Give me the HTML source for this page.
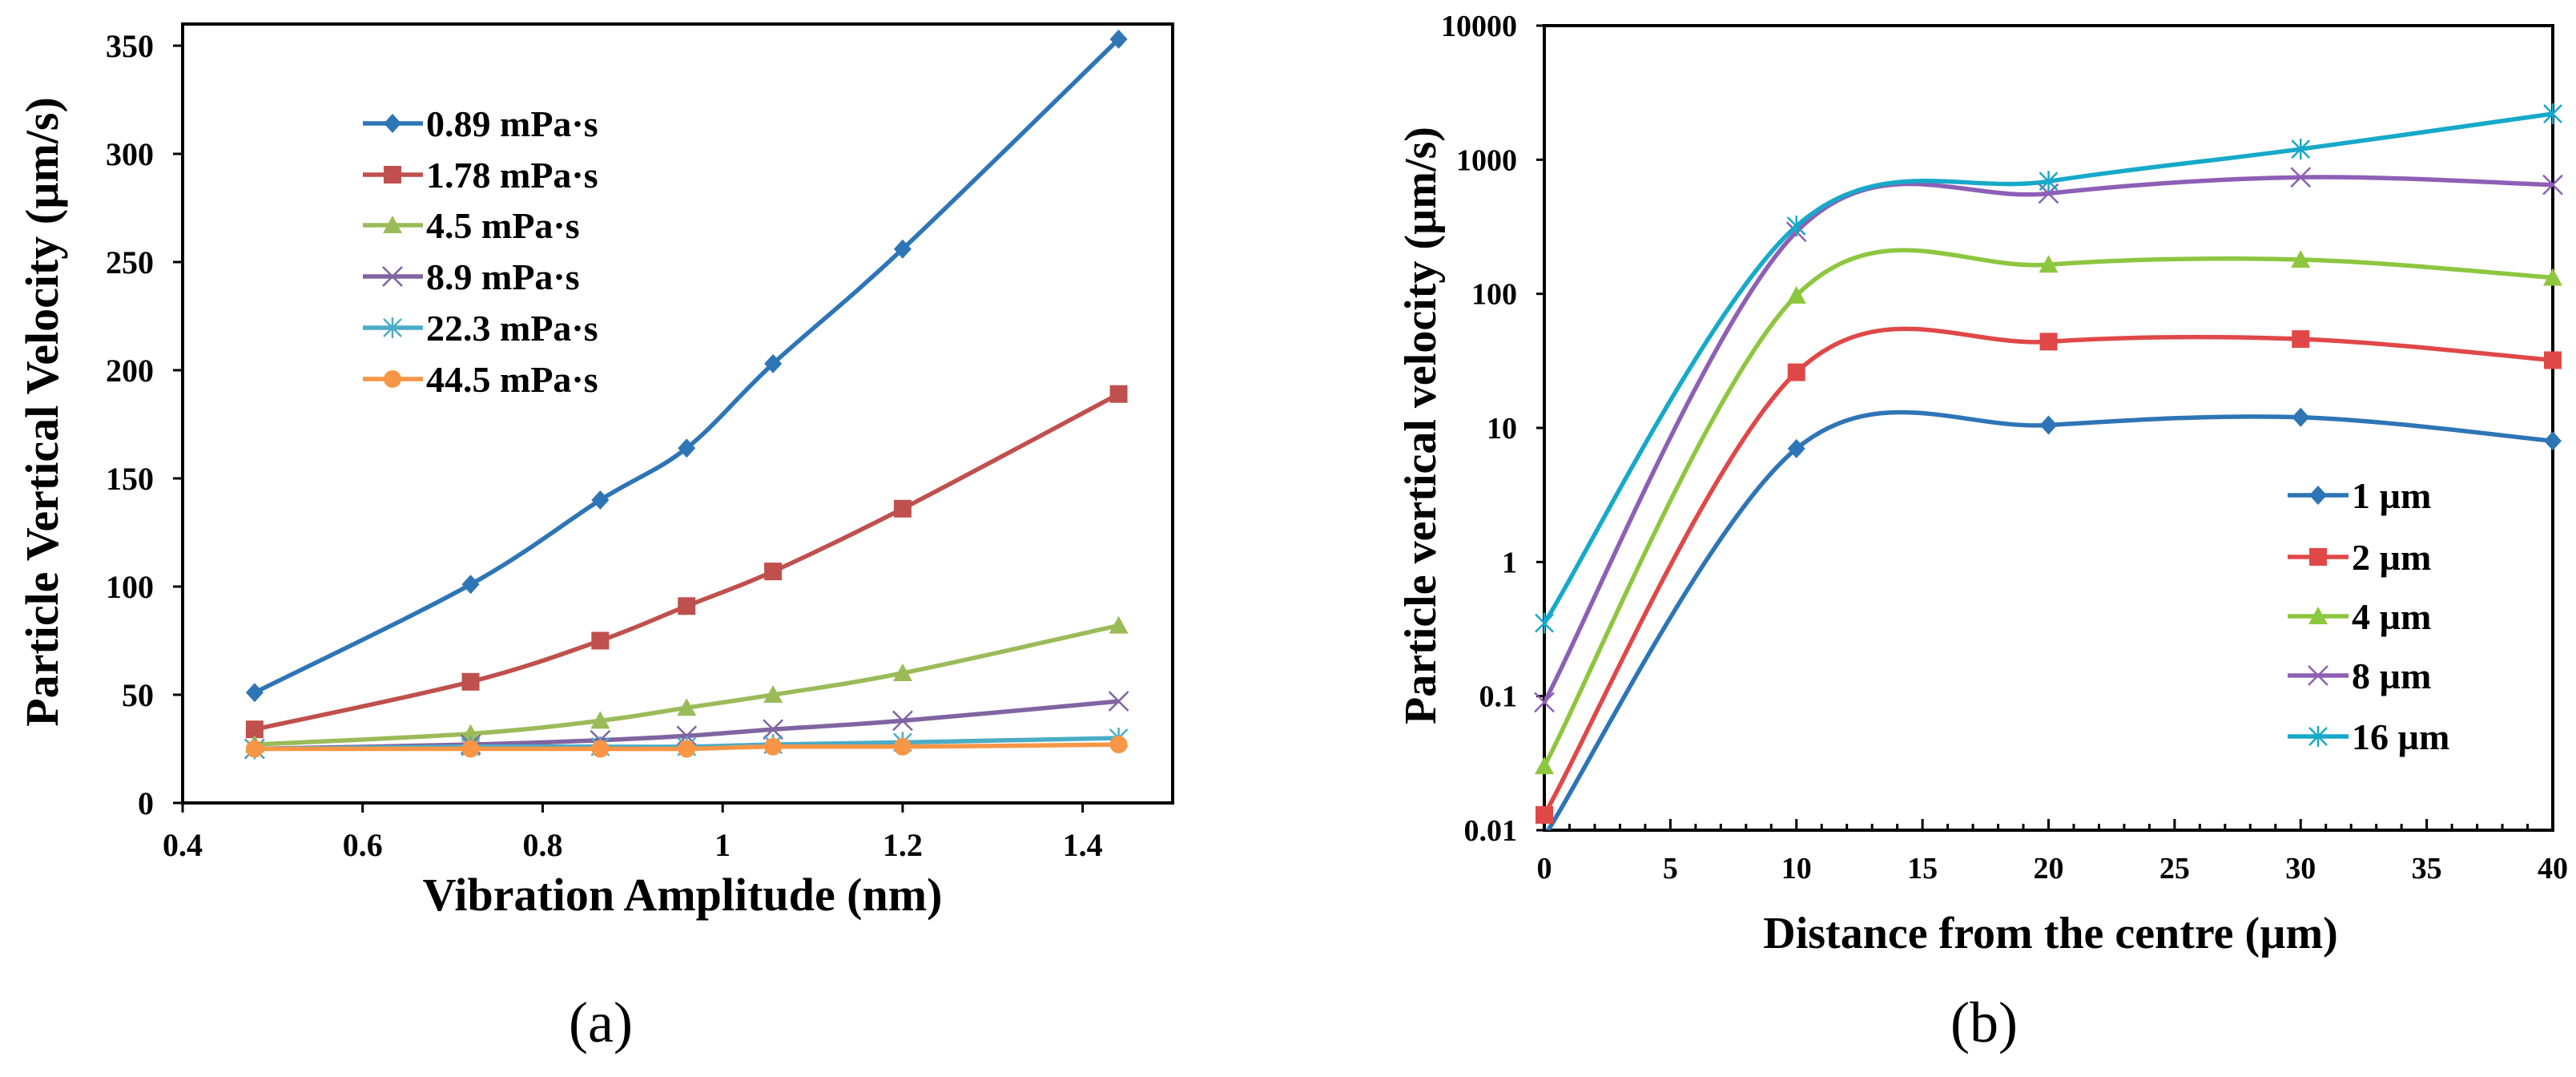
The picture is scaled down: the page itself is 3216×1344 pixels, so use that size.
<!DOCTYPE html>
<html><head><meta charset="utf-8"><style>
html,body{margin:0;padding:0;background:#fff;}
svg{display:block;font-family:"Liberation Serif",serif;}
</style></head><body>
<svg id="s" width="3216" height="1344" viewBox="0 0 3216 1344" xmlns="http://www.w3.org/2000/svg"></svg>
<script>
// ---- Chart (a) data ----
const aX = [0.48, 0.72, 0.864, 0.96, 1.056, 1.2, 1.44];
const aS089 = [51, 101, 140, 164, 203, 256, 353];
const aS178 = [34, 56, 75, 91, 107, 136, 189];
const aS45 = [27, 32, 38, 44, 50, 60, 82];
const aS89 = [25, 27, 29, 31, 34, 38, 47];
const aS223 = [25, 26, 26, 26, 27, 28, 30];
const aS445 = [25, 25, 25, 25, 26, 26, 27];
const aNames = ["0.89 mPa·s", "1.78 mPa·s", "4.5 mPa·s", "8.9 mPa·s", "22.3 mPa·s", "44.5 mPa·s"];
const aXTicks = [0.4, 0.6, 0.8, 1, 1.2, 1.4];
const aYTicks = [0, 50, 100, 150, 200, 250, 300, 350];
// ---- Chart (b) data ----
const bX = [0, 10, 20, 30, 40];
const b1 = [0.009, 7, 10.5, 12, 8];
const b2 = [0.013, 26, 44, 46, 32];
const b4 = [0.03, 97, 165, 180, 132];
const b8 = [0.09, 290, 560, 740, 650];
const b16 = [0.35, 320, 690, 1200, 2200];
const bNames = ["1 µm", "2 µm", "4 µm", "8 µm", "16 µm"];
const bXTicks = [0, 5, 10, 15, 20, 25, 30, 35, 40];
const bYTicks = [0.01, 0.1, 1, 10, 100, 1000, 10000];

const NS = "http://www.w3.org/2000/svg";
const svg = document.getElementById('s');
function mk(tag, attrs, parent, text) {
  const e = document.createElementNS(NS, tag);
  for (const k in attrs) e.setAttribute(k, attrs[k]);
  if (text !== undefined) e.textContent = text;
  (parent || svg).appendChild(e);
  return e;
}
const colors = ["#2e75b6", "#c0504d", "#9bbb59", "#8064a2", "#4bacc6", "#f79646"];
const bColors = ["#2e75b6", "#e04848", "#8dc63f", "#8e5fb5", "#16a9c9"];

function marker(g, type, x, y, c) {
  let m;
  if (type === 'diamond') m = mk('polygon', {points: `${x},${y-12} ${x+11},${y} ${x},${y+12} ${x-11},${y}`, fill: c}, g);
  else if (type === 'square') m = mk('rect', {x: x-11, y: y-11, width: 22, height: 22, fill: c}, g);
  else if (type === 'tri') m = mk('polygon', {points: `${x},${y-12} ${x+12},${y+10} ${x-12},${y+10}`, fill: c}, g);
  else if (type === 'x') m = mk('path', {d: `M${x-12},${y-12}L${x+12},${y+12}M${x-12},${y+12}L${x+12},${y-12}`, stroke: c, 'stroke-width': 2.5, fill: 'none'}, g);
  else if (type === 'star') m = mk('path', {d: `M${x-11},${y-11}L${x+11},${y+11}M${x-11},${y+11}L${x+11},${y-11}M${x},${y-13}L${x},${y+13}`, stroke: c, 'stroke-width': 2.5, fill: 'none'}, g);
  else m = mk('circle', {cx: x, cy: y, r: 11, fill: c}, g);
  
  
  return m;
}
function smoothPath(pts) {
  let d = `M${pts[0][0]},${pts[0][1]}`;
  for (let i = 0; i < pts.length - 1; i++) {
    const p0 = pts[i-1] || pts[i], p1 = pts[i], p2 = pts[i+1], p3 = pts[i+2] || p2;
    const t = 1/6;
    d += `C${p1[0]+(p2[0]-p0[0])*t},${p1[1]+(p2[1]-p0[1])*t} ${p2[0]-(p3[0]-p1[0])*t},${p2[1]-(p3[1]-p1[1])*t} ${p2[0]},${p2[1]}`;
  }
  return d;
}

// ===== Chart A =====
const A = {l: 228, r: 1464, t: 30, b: 1002, x0: 0.4, x1: 1.5, y0: 0, y1: 360};
const ax = v => A.l + (v - A.x0) / (A.x1 - A.x0) * (A.r - A.l);
const ay = v => A.b - (v - A.y0) / (A.y1 - A.y0) * (A.b - A.t);
const gA = mk('g', { });
mk('rect', {x: A.l, y: A.t, width: A.r-A.l, height: A.b-A.t, fill: 'none', stroke: '#000', 'stroke-width': 4,  }, gA);
aXTicks.forEach(v => {
  const x = ax(v);
  mk('line', {x1: x, y1: A.b, x2: x, y2: A.b+12, stroke: '#000', 'stroke-width': 3,  }, gA);
  mk('text', {x: x, y: A.b+66, 'text-anchor': 'middle', 'font-size': 40, 'font-weight': 'bold',  }, gA, String(v));
});
aYTicks.forEach(v => {
  const y = ay(v);
  mk('line', {x1: A.l-12, y1: y, x2: A.l, y2: y, stroke: '#000', 'stroke-width': 3,  }, gA);
  mk('text', {x: 192, y: y+14, 'text-anchor': 'end', 'font-size': 40, 'font-weight': 'bold',  }, gA, String(v));
});
mk('text', {x: 852, y: 1136, 'text-anchor': 'middle', 'font-size': 58, 'font-weight': 'bold',  }, gA, 'Vibration Amplitude (nm)');
mk('text', {x: 0, y: 0, transform: 'translate(72,514) rotate(-90)', 'text-anchor': 'middle', 'font-size': 58, 'font-weight': 'bold',  }, gA, 'Particle Vertical Velocity (µm/s)');
const aSeries = [aS089, aS178, aS45, aS89, aS223, aS445];
const aMarks = ['diamond', 'square', 'tri', 'x', 'star', 'circle'];
const aLegY = [154, 218, 281, 345, 409, 473];
aSeries.forEach((s, i) => {
  const g = mk('g', { }, gA);
  const pts = aX.map((x, j) => [ax(x), ay(s[j])]);
  mk('path', {d: smoothPath(pts), fill: 'none', stroke: colors[i], 'stroke-width': 5.5,  }, g);
  pts.forEach(p => marker(g, aMarks[i], p[0], p[1], colors[i]));
  const lg = mk('g', { }, gA);
  mk('line', {x1: 453, y1: aLegY[i], x2: 528, y2: aLegY[i], stroke: colors[i], 'stroke-width': 5.5}, lg);
  marker(lg, aMarks[i], 490, aLegY[i], colors[i]);
  mk('text', {x: 532, y: aLegY[i]+16, 'font-size': 46, 'font-weight': 'bold'}, lg, aNames[i]);
});
mk('text', {x: 750, y: 1300, 'text-anchor': 'middle', 'font-size': 72,  }, svg, '(a)');

// ===== Chart B =====
const B = {l: 1928, r: 3187, t: 32, b: 1036, x0: 0, x1: 40, ly0: -2, ly1: 4};
const bx = v => B.l + (v - B.x0) / (B.x1 - B.x0) * (B.r - B.l);
const by = v => B.b - (Math.log10(v) - B.ly0) / (B.ly1 - B.ly0) * (B.b - B.t);
const gB = mk('g', { });
const clip = mk('clipPath', {id: 'cb'}, gB);
mk('rect', {x: B.l, y: B.t, width: B.r-B.l, height: B.b-B.t}, clip);
for (let v = 0; v <= 40; v++) {
  const x = bx(v);
  const len = v % 5 === 0 ? 14 : 8;
  mk('line', {x1: x, y1: B.b, x2: x, y2: B.b-len, stroke: '#000', 'stroke-width': 3,  }, gB);
}
bXTicks.forEach(v => {
  mk('text', {x: bx(v), y: B.b+60, 'text-anchor': 'middle', 'font-size': 38, 'font-weight': 'bold',  }, gB, String(v));
});
bYTicks.forEach(v => {
  const y = by(v);
  mk('line', {x1: B.l-10, y1: y, x2: B.l, y2: y, stroke: '#000', 'stroke-width': 3,  }, gB);
  mk('text', {x: 1894, y: y+13, 'text-anchor': 'end', 'font-size': 38, 'font-weight': 'bold',  }, gB, String(v));
});
mk('rect', {x: B.l, y: B.t, width: B.r-B.l, height: B.b-B.t, fill: 'none', stroke: '#000', 'stroke-width': 4,  }, gB);
mk('text', {x: 2560, y: 1183, 'text-anchor': 'middle', 'font-size': 56, 'font-weight': 'bold',  }, gB, 'Distance from the centre (µm)');
mk('text', {x: 0, y: 0, transform: 'translate(1792,531) rotate(-90)', 'text-anchor': 'middle', 'font-size': 56, 'font-weight': 'bold', 'xml:space': 'preserve',  }, gB, 'Particle vertical velocity  (µm/s)');
const bSeries = [b1, b2, b4, b8, b16];
const bMarks = ['diamond', 'square', 'tri', 'x', 'star'];
const bLegY = [618, 695, 769, 843, 919];
bSeries.forEach((s, i) => {
  const g = mk('g', { }, gB);
  const pts = bX.map((x, j) => [bx(x), by(s[j])]);
  mk('path', {d: smoothPath(pts), fill: 'none', stroke: bColors[i], 'stroke-width': 5.5, 'clip-path': 'url(#cb)',  }, g);
  pts.forEach(p => { if (p[1] <= B.b + 2) marker(g, bMarks[i], p[0], p[1], bColors[i]); });
  const lg = mk('g', { }, gB);
  mk('line', {x1: 2856, y1: bLegY[i], x2: 2932, y2: bLegY[i], stroke: bColors[i], 'stroke-width': 5.5}, lg);
  marker(lg, bMarks[i], 2894, bLegY[i], bColors[i]);
  mk('text', {x: 2936, y: bLegY[i]+16, 'font-size': 46, 'font-weight': 'bold'}, lg, bNames[i]);
});
mk('text', {x: 2477, y: 1300, 'text-anchor': 'middle', 'font-size': 72,  }, svg, '(b)');
</script>
</body></html>
